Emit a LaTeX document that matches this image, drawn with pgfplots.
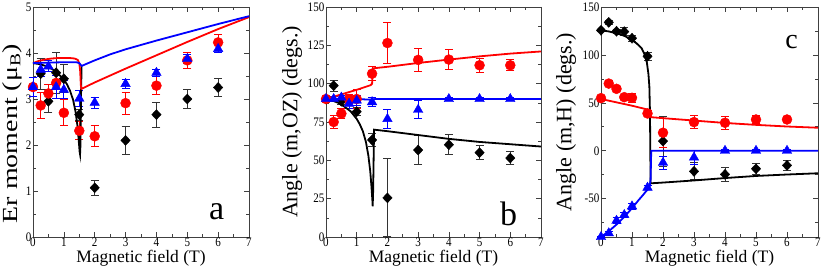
\documentclass[border=0pt]{standalone}
\usepackage{pgfplots}
\pgfplotsset{compat=1.18}
\usepackage{fontspec}
\setmainfont{Liberation Serif}

\pgfplotsset{
  panel/.style={
    scale only axis, height=230pt,
    xmin=0, xmax=7, xtick={0,1,...,7}, minor x tick num=1,
    tick align=inside, major tick length=5pt, minor tick length=3pt,
    xtick pos=both, ytick pos=both,
    axis line style={black!75, line width=0.7pt},
    every tick/.style={black!75, line width=0.6pt},
    ticklabel style={font=\fontsize{13}{13}\selectfont},
    xticklabel={\scalebox{0.85}[1]{\pgfmathprintnumber{\tick}}},
    yticklabel={\scalebox{0.85}[1]{\pgfmathprintnumber{\tick}}},
    xticklabel style={inner sep=1pt},
    yticklabel style={inner sep=1.5pt},
    /pgf/number format/assume math mode=true,
    xlabel={Magnetic field (T)},
    xlabel style={font=\fontsize{17.5}{17.5}\selectfont, at={(axis description cs:0.5,-0.091)}, anchor=center},
    ylabel style={font=\fontsize{22}{22}\selectfont, anchor=center},
    clip=false,
  },
  ln/.style={line width=1.8pt},
  ptk/.style={only marks, black, mark=diamond*, mark size=5pt, mark options={xscale=1.25},
    error bars/.cd, y dir=both, y explicit,
    error bar style={line width=1pt, black!80},
    error mark options={rotate=90, mark size=4pt, line width=1pt, black!80}},
  ptr/.style={only marks, red, mark=*, mark size=5pt,
    error bars/.cd, y dir=both, y explicit,
    error bar style={line width=1pt, red},
    error mark options={rotate=90, mark size=4pt, line width=1pt, red}},
  ptb/.style={only marks, blue, mark=triangle*, mark size=5.5pt,
    error bars/.cd, y dir=both, y explicit,
    error bar style={line width=1pt, blue},
    error mark options={rotate=90, mark size=4pt, line width=1pt, blue}},
}

\begin{document}
\begin{tikzpicture}
\useasboundingbox (0,0) rectangle (824pt,272pt);

% ---------------- panel a ----------------
\begin{axis}[panel, at={(33pt,35pt)}, anchor=south west, width=216pt,
  ymin=0, ymax=5, ytick={0,1,...,5}, minor y tick num=1,
  ylabel={\scalebox{1.3}[1]{Er moment (μ\textsubscript{B})}},
  ylabel style={font=\fontsize{21.5}{21.5}\selectfont, at={(axis description cs:-0.097,0.45)}}]
\addplot[ptk] table[x index=0, y index=1, y error index=2] {
0.25 3.55 0.34
0.5 2.95 0.25
0.75 3.57 0.45
1.0 3.44 0.30
1.5 2.66 0.12
2 1.07 0.16
3 2.10 0.31
4 2.66 0.27
5 3.00 0.20
6 3.25 0.20
};
\addplot[ptr] table[x index=0, y index=1, y error index=2] {
0 3.26 0.20
0.25 2.86 0.28
0.5 3.12 0.20
0.75 3.35 0.15
1.0 2.70 0.28
1.5 2.31 0.20
2 2.19 0.23
3 2.91 0.24
4 3.29 0.20
5 3.84 0.18
6 4.23 0.17
};
\addplot[ptb] table[x index=0, y index=1, y error index=2] {
0 3.26 0.20
0.25 3.64 0.15
0.5 3.71 0.12
0.75 3.26 0.25
1.0 3.20 0.20
1.5 3.01 0.17
2 2.92 0.12
3 3.33 0.10
4 3.57 0.08
5 3.87 0.10
6 4.09 0.09
};
\addplot[ln, black] coordinates {(0,3.78) (0.2,3.76) (0.4,3.72) (0.6,3.66) (0.8,3.56) (1.0,3.42) (1.1,3.32) (1.2,3.18) (1.3,2.98) (1.38,2.72) (1.44,2.42) (1.48,2.12) (1.51,1.86) (1.525,1.8) (1.535,1.95) (1.545,2.5) (1.56,3.2) (1.575,3.72)};
\addplot[ln, red] coordinates {(0,3.78) (0.2,3.83) (0.4,3.86) (0.6,3.88) (0.8,3.89) (1.0,3.89) (1.2,3.89) (1.35,3.88) (1.45,3.85) (1.5,3.78) (1.53,3.6) (1.55,3.3) (1.57,3.22) (2,3.36) (3,3.66) (4,3.95) (5,4.24) (6,4.52) (7,4.78)};
\addplot[ln, blue] coordinates {(0,3.78) (0.5,3.79) (1.0,3.80) (1.4,3.80) (1.5,3.78) (1.55,3.74) (1.58,3.72) (2,3.84) (2.5,3.97) (3,4.08) (4,4.27) (5,4.45) (6,4.63) (7,4.80)};
\node[font=\fontsize{34}{34}\selectfont, anchor=center] at (axis cs:5.95,0.55) {a};
\end{axis}

% ---------------- panel b ----------------
\begin{axis}[panel, at={(326pt,35pt)}, anchor=south west, width=215pt,
  ymin=0, ymax=150, ytick={0,25,...,150}, minor y tick num=1,
  ylabel={Angle (m,OZ) (degs.)},
  ylabel style={at={(axis description cs:-0.158,0.5)}}]
\addplot[ptk] table[x index=0, y index=1, y error index=2] {
0 90 0
0.25 98.7 3.5
0.5 88.5 2
1.0 81.7 2.5
1.5 63.3 4.5
2 25.5 25.5
3 56.7 9.5
4 60.2 6.5
5 55 4.5
6 51.5 4.5
};
\addplot[ptr] table[x index=0, y index=1, y error index=2] {
0 90 0
0.25 75 4.5
0.5 80.5 3
0.75 90 3
1.0 90 6
1.5 106.5 4.5
2 126.5 13.5
3 115.5 7.5
4 115.7 6.5
5 112 4.5
6 112 3.5
};
\addplot[ptb] table[x index=0, y index=1, y error index=2] {
0 90 0
0.25 90 1.5
0.5 91 1.5
0.75 87 3
1.0 89 3
1.5 88 3
2 77 6
3 83 6
4 90 1
5 90 1
6 90 1
};
\addplot[ln, black] coordinates {(0,90) (0.2,89) (0.4,87.5) (0.6,85) (0.8,82) (1.0,77) (1.1,73.5) (1.2,69) (1.3,62) (1.38,53) (1.44,43) (1.48,33) (1.51,24) (1.52,20) (1.535,30) (1.55,50) (1.565,70) (2,69) (3,66.5) (4,64) (5,62) (6,60.5) (7,59)};
\addplot[ln, red] coordinates {(0,90) (0.5,93) (1.0,96) (1.45,99) (1.5,100) (1.53,110) (2,111) (3,113.5) (4,115.7) (5,117.8) (6,119.6) (7,121)};
\addplot[ln, blue] coordinates {(0,90) (1,90) (1.5,89.5) (1.6,90) (7,90)};
\node[font=\fontsize{34}{34}\selectfont, anchor=center] at (axis cs:5.95,15) {b};
\end{axis}

% ---------------- panel c ----------------
\begin{axis}[panel, at={(601pt,35pt)}, anchor=south west, width=217pt,
  ymin=-90, ymax=150, ytick={-50,0,50,100,150}, minor ytick={-75,-25,25,75,125},
  ylabel={Angle (m,H) (degs.)},
  ylabel style={at={(axis description cs:-0.161,0.5)}}]
\addplot[ptk] table[x index=0, y index=1, y error index=2] {
0 125.7 1
0.25 134 2
0.5 124.7 2
0.75 124.3 4
1.0 117.4 3
1.5 98.6 4
2 10 26
3 -21.5 9
4 -24.7 7
5 -18.8 6
6 -15.3 5
};
\addplot[ptr] table[x index=0, y index=1, y error index=2] {
0 54.9 2
0.25 70.1 3
0.5 64.6 2
0.75 55.9 2
1.0 55.2 5
1.5 38.9 3
2 18.8 15
3 29.9 7
4 29.2 7
5 32.6 4
6 32.6 3
};
\addplot[ptb] table[x index=0, y index=1, y error index=2] {
0 -90 1
0.25 -86 2
0.5 -73 3
0.75 -67 3
1.0 -58 3
1.5 -38.5 2
2 -12.5 7
3 -7 7
4 0 1
5 0 1
6 0 1
};
\addplot[ln, black] coordinates {(0,125.7) (0.25,124.5) (0.5,122.5) (0.75,120) (1.0,115.5) (1.15,112) (1.31,107) (1.4,101) (1.48,92) (1.53,80) (1.56,67) (1.58,40) (1.59,0) (1.6,-34) (2,-33.2) (3,-31) (4,-28.5) (5,-26.3) (6,-24.8) (7,-23.5)};
\addplot[ln, red] coordinates {(0,54) (0.5,50.5) (1.0,47) (1.5,43) (1.58,42) (1.62,35) (2,34) (3,31.5) (4,29) (5,27) (6,25.3) (7,24)};
\addplot[ln, blue] coordinates {(0,-90) (0.25,-84) (0.5,-77) (0.75,-69) (1.0,-60) (1.2,-52) (1.36,-46) (1.46,-42) (1.52,-40) (1.57,-37) (1.6,-30) (1.61,-15) (1.62,0) (7,0)};
\node[font=\fontsize{28}{28}\selectfont, anchor=center] at (axis cs:6.15,113) {c};
\end{axis}
\end{tikzpicture}
\end{document}
